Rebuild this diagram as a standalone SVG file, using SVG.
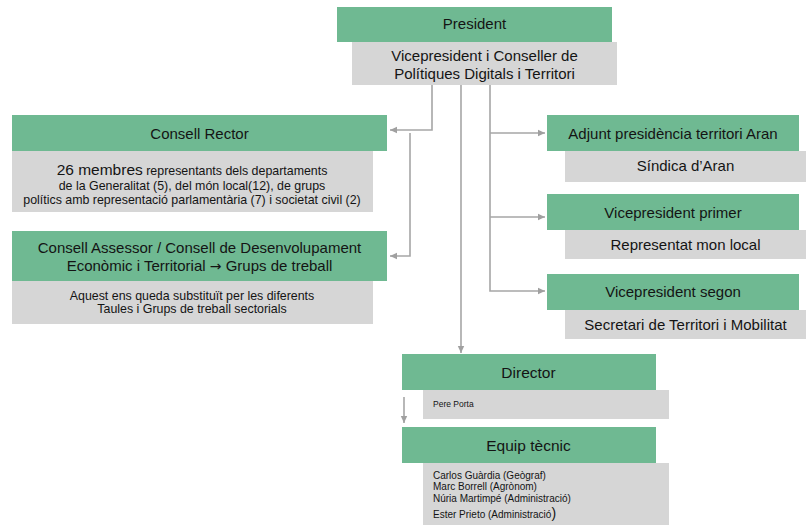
<svg xmlns="http://www.w3.org/2000/svg" width="812" height="525" viewBox="0 0 812 525">
<style>
.g{fill:#6fb992}
.s{fill:#d6d6d6}
text{font-family:"Liberation Sans",Arial,sans-serif;fill:#141414}
.t{font-size:15px;text-anchor:middle}
.m{font-size:12.4px;text-anchor:middle}
.l{font-size:10px}
.c{fill:none;stroke:#a6a6a6;stroke-width:1.6}
</style>
<defs>
<marker id="ah" markerWidth="8" markerHeight="8" refX="7" refY="4" orient="auto" markerUnits="userSpaceOnUse">
<path d="M0,0.8 L7,4 L0,7.2 Z" fill="#a0a0a0"/>
</marker>
</defs>
<rect width="812" height="525" fill="#fff"/>
<g id="connectors">
<path class="c" d="M432 85 V130 H390" marker-end="url(#ah)"/>
<path class="c" d="M410 133 V256 H390" marker-end="url(#ah)"/>
<path class="c" d="M461 85 V353" marker-end="url(#ah)"/>
<path class="c" d="M490 85 V291 H545" marker-end="url(#ah)"/>
<path class="c" d="M490 133 H545" marker-end="url(#ah)"/>
<path class="c" d="M490 217 H545" marker-end="url(#ah)"/>
<path class="c" d="M404 397 V423" marker-end="url(#ah)"/>
</g>
<g id="president">
<rect class="s" x="352" y="42" width="265" height="43"/>
<rect class="g" x="337" y="7" width="275" height="35"/>
<text class="t" x="474.5" y="29">President</text>
<text class="t" x="484.5" y="61">Vicepresident i Conseller de</text>
<text class="t" x="484.5" y="79">Polítiques Digitals i Territori</text>
</g>
<g id="consell-rector">
<rect class="s" x="12" y="151" width="361" height="61"/>
<rect class="g" x="12" y="115" width="375" height="36"/>
<text class="t" x="199.5" y="138.5">Consell Rector</text>
<text class="m" x="192" y="175"><tspan font-size="15.5px">26 membres</tspan> representants dels departaments</text>
<text class="m" x="192" y="190">de la Generalitat (5), del món local(12), de grups</text>
<text class="m" x="192" y="204">polítics amb representació parlamentària (7) i societat civil (2)</text>
</g>
<g id="consell-assessor">
<rect class="s" x="12" y="281" width="361" height="43"/>
<rect class="g" x="12" y="231" width="375" height="50"/>
<text class="t" x="199.5" y="253">Consell Assessor / Consell de Desenvolupament</text>
<text class="t" x="199.5" y="271">Econòmic  i Territorial <tspan font-family="'DejaVu Sans',sans-serif" font-size="14px">→</tspan> Grups de treball</text>
<text class="m" x="192" y="300">Aquest ens queda substituït per les diferents</text>
<text class="m" x="192" y="313">Taules i Grups de treball sectorials</text>
</g>
<g id="adjunt">
<rect class="s" x="565" y="151" width="241" height="31"/>
<rect class="g" x="547" y="115" width="252" height="36"/>
<text class="t" x="673" y="139">Adjunt presidència territori Aran</text>
<text class="t" x="685.5" y="171">Síndica d’Aran</text>
</g>
<g id="vp-primer">
<rect class="s" x="565" y="230" width="241" height="29"/>
<rect class="g" x="547" y="194" width="252" height="36"/>
<text class="t" x="673" y="218">Vicepresident primer</text>
<text class="t" x="685.5" y="250">Representat mon local</text>
</g>
<g id="vp-segon">
<rect class="s" x="565" y="310" width="241" height="29"/>
<rect class="g" x="547" y="274" width="252" height="36"/>
<text class="t" x="673" y="297">Vicepresident segon</text>
<text class="t" x="685.5" y="330">Secretari de Territori i Mobilitat</text>
</g>
<g id="director">
<rect class="s" x="423" y="390" width="246" height="29"/>
<rect class="g" x="402" y="354" width="254" height="36"/>
<text class="t" x="528.5" y="377.5" style="font-size:15.5px">Director</text>
<text x="433" y="407" style="font-size:8.5px">Pere Porta</text>
</g>
<g id="equip-tecnic">
<rect class="s" x="423" y="463" width="246" height="62"/>
<rect class="g" x="402" y="427" width="254" height="36"/>
<text class="t" x="528.5" y="450.5" style="font-size:15.5px">Equip tècnic</text>
<text class="l" x="433" y="479">Carlos Guàrdia (Geògraf)</text>
<text class="l" x="433" y="490">Marc Borrell (Agrònom)</text>
<text class="l" x="433" y="502">Núria Martimpé (Administració)</text>
<text class="l" x="433" y="518">Ester Prieto (Administració<tspan font-size="14px">)</tspan></text>
</g>
</svg>
